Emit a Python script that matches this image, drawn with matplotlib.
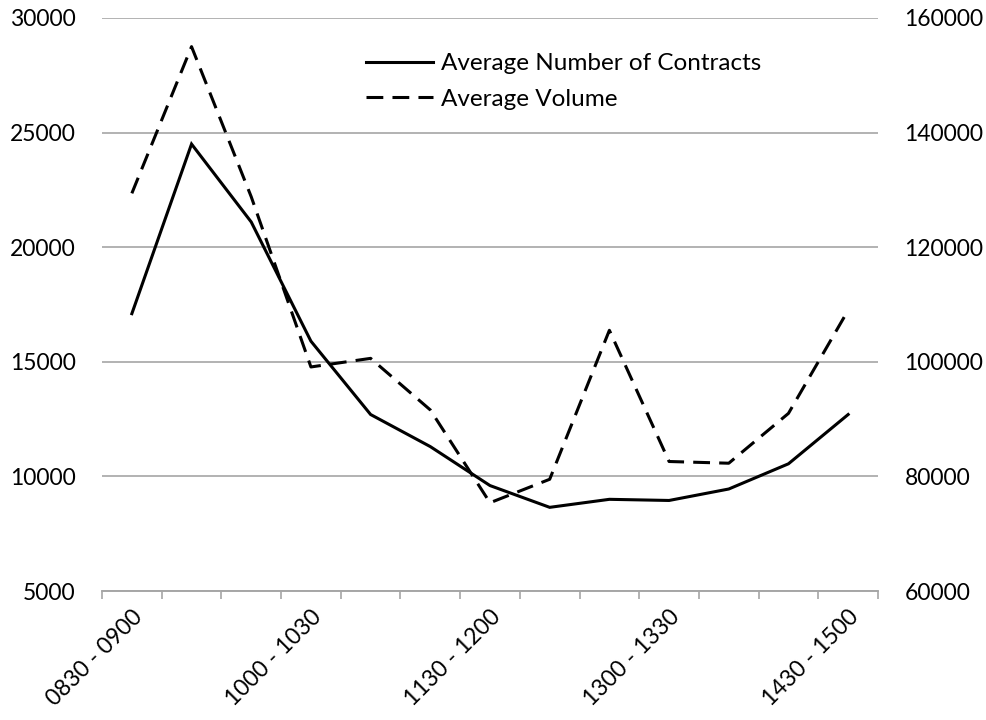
import numpy as np
import matplotlib.pyplot as plt
from matplotlib.lines import Line2D

plt.rcParams['font.family'] = ['Lato', 'DejaVu Sans']

# half-hour trading intervals
intervals = ['0830 - 0900', '0900 - 0930', '0930 - 1000', '1000 - 1030',
             '1030 - 1100', '1100 - 1130', '1130 - 1200', '1200 - 1230',
             '1230 - 1300', '1300 - 1330', '1330 - 1400', '1400 - 1430',
             '1430 - 1500']
avg_contracts = [17100, 24500, 21100, 15900, 12700, 11300, 9600,
                 8650, 9000, 8950, 9450, 10550, 12700]
avg_volume = [129400, 155000, 128800, 99100, 100600, 91600, 75400,
              79500, 105500, 82600, 82300, 91000, 109000]

fig = plt.figure(figsize=(9.87, 7.2), dpi=100)
ax = fig.add_axes([102/987, 1 - 591/720, 776/987, 573/720])
ax2 = ax.twinx()

x = np.arange(len(intervals))
lw = 2.2
dash = (0, (5.5, 3.0))
ax.plot(x, avg_contracts, color='black', lw=lw, solid_joinstyle='miter')
ax2.plot(x, avg_volume, color='black', lw=lw, linestyle=dash,
         dash_capstyle='butt')

ax.set_ylim(5000, 30000)
ax.set_yticks(np.arange(5000, 30001, 5000))
ax2.set_ylim(60000, 160000)
ax2.set_yticks(np.arange(60000, 160001, 20000))
ax.set_xlim(-0.5, len(intervals) - 0.5)

grid_col = '#a6a6a6'
ax.grid(axis='y', color=grid_col, lw=1.2)
ax.set_axisbelow(True)
for a in (ax, ax2):
    for s in ('left', 'right', 'top'):
        a.spines[s].set_visible(False)
    a.spines['bottom'].set_color(grid_col)
    a.spines['bottom'].set_linewidth(1.2)

ax.tick_params(axis='y', length=0, pad=19, labelsize=16.5)
ax2.tick_params(axis='y', length=0, pad=19, labelsize=16.5)

# category boundaries as tick marks, labels every third interval
ax.set_xticks(np.arange(-0.5, len(intervals), 1.0), minor=True)
ax.tick_params(axis='x', which='minor', length=6, color=grid_col, width=1.2)
ax.set_xticks(x[::3])
ax.set_xticklabels(intervals[::3], rotation=45, ha='right',
                   rotation_mode='anchor', fontsize=16.5)
ax.tick_params(axis='x', which='major', length=0, pad=11)

handles = [Line2D([], [], color='black', lw=lw),
           Line2D([], [], color='black', lw=lw, linestyle=dash)]
fig.legend(handles, ['Average Number of Contracts', 'Average Volume'],
           loc='upper left', bbox_to_anchor=(366/987, 1 - 53/720),
           frameon=False, fontsize=17.5, handlelength=2.75, handletextpad=0.33,
           borderpad=0, borderaxespad=0, labelspacing=0.6)

fig.savefig('out.png', dpi=100)
